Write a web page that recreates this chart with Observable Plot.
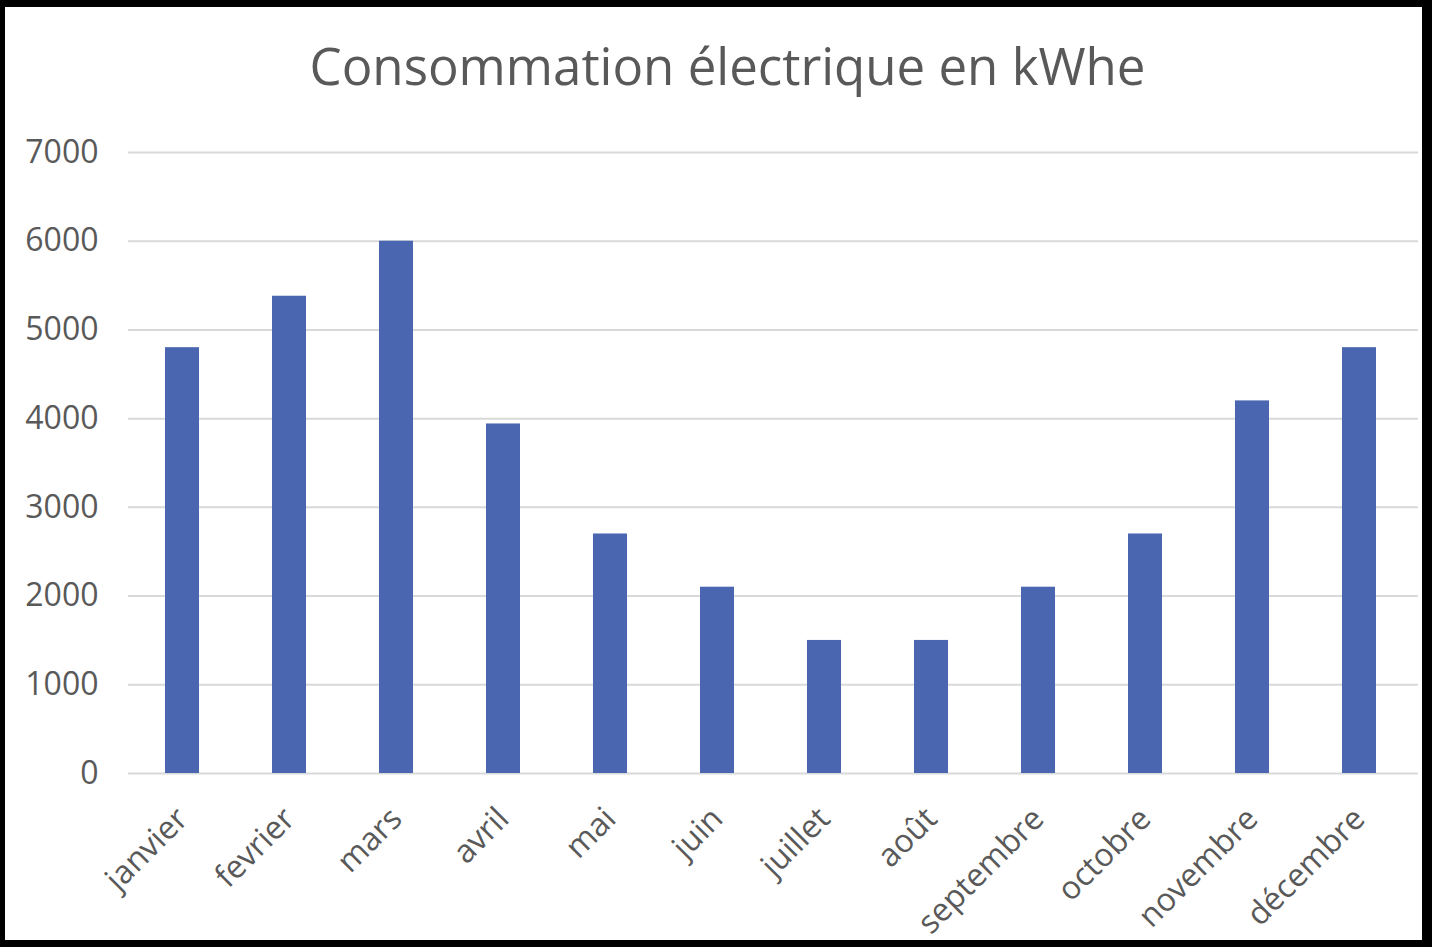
<!DOCTYPE html>
<html>
<head>
<meta charset="utf-8">
<script src="https://cdn.jsdelivr.net/npm/d3@7"></script>
<script src="https://cdn.jsdelivr.net/npm/@observablehq/plot@0.6"></script>
<style>
  html, body { margin: 0; padding: 0; background: #000; }
  #frame { position: relative; width: 1432px; height: 947px; background: #000; overflow: hidden; }
  #panel { position: absolute; left: 5px; top: 7px; width: 1417px; height: 933px; background: #fff; }
  #title { position: absolute; left: 14px; top: 28px; width: 1417px; text-align: center;
           font-family: "Open Sans", sans-serif; font-size: 51px; color: #595959; line-height: 60px; }
  #chart { position: absolute; left: 0; top: 110px; }
</style>
</head>
<body>
<div id="frame"><div id="panel">
  <div id="title">Consommation électrique en kWhe</div>
  <div id="chart"></div>
</div></div>
<script>
const months = ["janvier","fevrier","mars","avril","mai","juin","juillet","août","septembre","octobre","novembre","décembre"];
const values = [4800, 5380, 6000, 3940, 2700, 2100, 1500, 1500, 2100, 2700, 4200, 4800];
const yTicks = [0, 1000, 2000, 3000, 4000, 5000, 6000, 7000];

const data = months.map((m, i) => ({month: m, value: values[i]}));

const chart = Plot.plot({
  width: 1417,
  height: 823,
  marginTop: 35,
  marginBottom: 167,
  marginLeft: 123,
  marginRight: 4,
  style: {fontFamily: "Open Sans, sans-serif", fontSize: "32px", color: "#595959", background: "transparent", overflow: "visible"},
  x: {domain: months, range: [121, 1411], paddingInner: 0.68, paddingOuter: 0.34, label: null},
  y: {domain: [0, 7000], label: null},
  marks: [
    Plot.gridY(yTicks, {stroke: "#d9d9d9", strokeOpacity: 1, strokeWidth: 2}),
    Plot.barY(data, {x: "month", y: "value", fill: "#4a66b0"}),
    Plot.axisY(yTicks, {tickSize: 0, tickPadding: 30, tickFormat: d => String(d), fill: "#595959", fontSize: 32}),
    Plot.axisX({tickSize: 0, tickRotate: -45, tickPadding: 40, fill: "#595959", fontSize: 32})
  ]
});
document.getElementById("chart").appendChild(chart);
</script>
</body>
</html>
